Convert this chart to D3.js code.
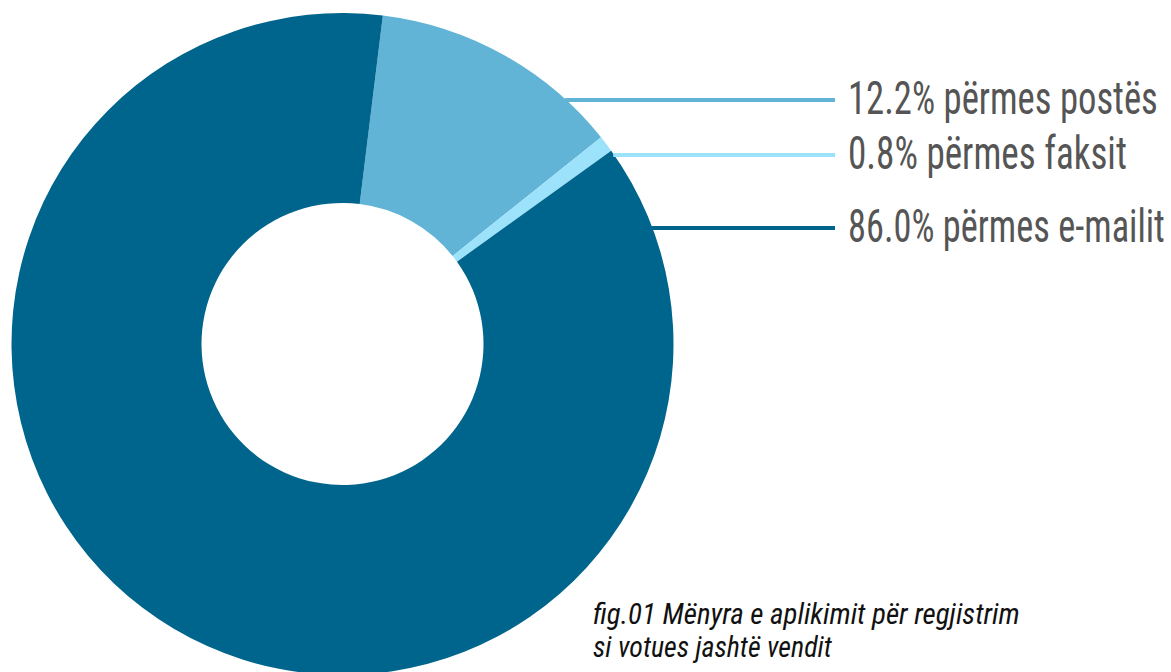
<!DOCTYPE html>
<html>
<head>
<meta charset="utf-8">
<script src="https://cdn.jsdelivr.net/npm/d3@7"></script>
<style>
  html, body { margin: 0; padding: 0; background: #fff; }
  svg { display: block; }
</style>
</head>
<body>
<svg id="chart" width="1171" height="672"></svg>
<script>
// ---- data ----
const categories = ["përmes postës", "përmes faksit", "përmes e-mailit"];
const values = [12.2, 0.8, 86.0];
const valueLabels = ["12.2%", "0.8%", "86.0%"];
const colors = ["#62B4D6", "#9DE2FB", "#00658C"];
const captionLines = ["fig.01 Mënyra e aplikimit për regjistrim", "si votues jashtë vendit"];

// ---- layout ----
const cx = 342.5, cy = 344;
const outerR = 331, innerR = 141;
const startDeg = 7;
const labelY = [100, 155, 228];
const lineEndX = 835, textX = 848;
const textWidths = [310, 279, 317];
const fontStack = "'Roboto Condensed', 'Liberation Sans Narrow', 'Arial Narrow', sans-serif";

const svg = d3.select("#chart");
const g = svg.append("g").attr("transform", `translate(${cx},${cy})`);

const pie = d3.pie().sort(null).value(d => d)
  .startAngle(startDeg * Math.PI / 180)
  .endAngle(startDeg * Math.PI / 180 + 2 * Math.PI);
const arc = d3.arc().innerRadius(innerR).outerRadius(outerR);

g.selectAll("path.slice").data(pie(values)).enter().append("path")
  .attr("class", "slice")
  .attr("d", arc)
  .attr("fill", (d, i) => colors[i]);

// fit a text to a target width by scaling horizontally, with a vertical stretch
function fitText(sel, x, y, width, sy) {
  const w = sel.node().getComputedTextLength();
  const sx = width / w;
  sel.attr("x", 0).attr("y", 0)
    .attr("transform", `translate(${x},${y}) scale(${sx},${sy})`);
}

// leader lines + labels
labelY.forEach((y, i) => {
  const dy = y - cy;
  const x0 = cx + Math.sqrt(outerR * outerR - dy * dy) - 1;
  svg.append("line")
    .attr("x1", x0).attr("x2", lineEndX)
    .attr("y1", y).attr("y2", y)
    .attr("stroke", colors[i]).attr("stroke-width", 4);
  const t = svg.append("text")
    .attr("font-family", fontStack)
    .attr("font-size", 40)
    .attr("fill", "#555555")
    .text(valueLabels[i] + " " + categories[i]);
  fitText(t, textX, y + 14, textWidths[i], 1.15);
});

// caption
const capWidths = [427, 239];
const capY = [624, 657];
captionLines.forEach((s, i) => {
  const t = svg.append("text")
    .attr("font-family", fontStack)
    .attr("font-style", "italic")
    .attr("font-size", 26)
    .attr("fill", "#111")
    .text(s);
  fitText(t, 593, capY[i], capWidths[i], 1.12);
});
</script>
</body>
</html>
